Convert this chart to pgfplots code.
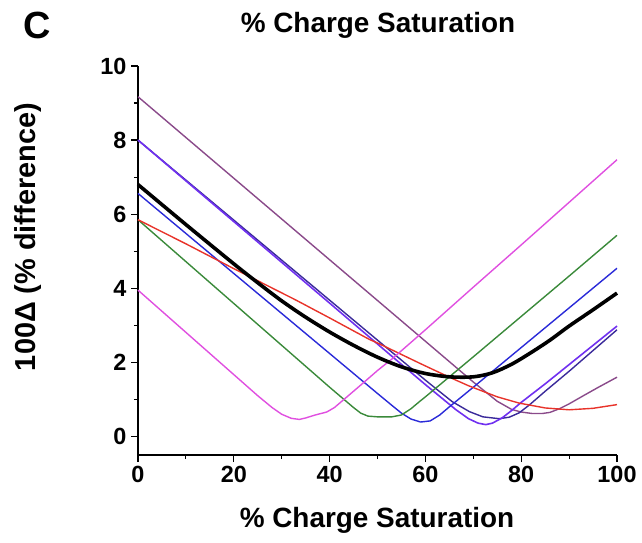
\documentclass[border=0pt]{standalone}
\usepackage{pgfplots}
\pgfplotsset{compat=1.18}
\usepackage{fontspec}
\setmainfont{Liberation Sans}
\definecolor{cplum}{HTML}{8A4A8A}
\definecolor{cviolet}{HTML}{7030F0}
\definecolor{cnavy}{HTML}{3A2A9A}
\definecolor{cblue}{HTML}{2A2AD8}
\definecolor{cgreen}{HTML}{3A8A3A}
\definecolor{cred}{HTML}{E8332A}
\definecolor{cmag}{HTML}{E050E0}
\begin{document}
\begin{tikzpicture}
\useasboundingbox (-138bp,-88bp) rectangle (504bp,455bp);
\begin{axis}[
  at={(0,0)}, anchor=south west,
  scale only axis, width=479bp, height=389bp,
  xmin=0, xmax=100, ymin=-0.5, ymax=10,
  axis lines*=left,
  axis line style={line width=1.4bp},
  tick align=outside,
  major tick length=7bp, minor tick length=4bp,
  every tick/.style={black, line width=1.2bp},
  xtick={0,20,40,60,80,100}, ytick={0,2,4,6,8,10},
  minor x tick num=1, minor y tick num=1,
  /pgf/number format/assume math mode=true,
  ticklabel style={font=\bfseries\fontsize{23.5}{23.5}\selectfont},
  xticklabel style={yshift=-1bp},
  yticklabel style={xshift=-1bp},
  clip=false,
]
% dark plum
\addplot[cplum, line width=1.4bp] coordinates {
(0,9.17) (10,8.07) (20,6.97) (30,5.87) (40,4.77) (50,3.67) (60,2.57) (70,1.47) (75,0.95) (78,0.73) (80,0.66) (82.3,0.62) (84.4,0.62) (86,0.65) (88,0.75) (90,0.88) (92.7,1.08) (96,1.32) (100,1.6)};
% navy
\addplot[cnavy, line width=1.4bp] coordinates {
(0,8.0) (10,6.92) (20,5.84) (30,4.76) (40,3.68) (52.5,2.33) (60,1.52) (65.6,0.94) (69.2,0.67) (72,0.53) (75.4,0.48) (77.5,0.52) (79.6,0.64) (81.7,0.85) (85,1.22) (90,1.76) (95,2.32) (100,2.88)};
% violet
\addplot[cviolet, line width=1.6bp] coordinates {
(0,8.0) (10,6.9) (20,5.8) (30,4.7) (40,3.6) (52.5,2.22) (60,1.4) (66.4,0.72) (69,0.48) (71,0.36) (72.6,0.32) (74,0.36) (76,0.5) (78,0.7) (80,0.92) (85,1.42) (90,1.94) (95,2.46) (100,2.98)};
% blue
\addplot[cblue, line width=1.4bp] coordinates {
(0,6.56) (10,5.48) (20,4.4) (30,3.32) (40,2.24) (50,1.16) (53,0.84) (55,0.63) (57,0.47) (59,0.39) (61,0.42) (63,0.58) (65,0.8) (70,1.33) (80,2.4) (90,3.47) (100,4.54)};
% green
\addplot[cgreen, line width=1.4bp] coordinates {
(0,5.85) (10,4.72) (20,3.59) (30,2.46) (40,1.33) (43,1.0) (45,0.78) (46.5,0.63) (48,0.55) (50,0.53) (53,0.53) (55,0.58) (57,0.75) (58.75,0.94) (60,1.07) (70,2.15) (80,3.24) (90,4.33) (100,5.43)};
% red
\addplot[cred, line width=1.4bp] coordinates {
(0,5.85) (10,5.2) (20,4.53) (33,3.68) (40,3.2) (48.3,2.62) (50.4,2.5) (58.75,1.98) (65,1.6) (69,1.37) (75,1.07) (79.6,0.9) (85,0.77) (90,0.72) (95,0.76) (100,0.86)};
% magenta
\addplot[cmag, line width=1.4bp] coordinates {
(0,3.95) (10,2.81) (20,1.67) (25,1.1) (28,0.78) (30,0.6) (32,0.49) (33.7,0.46) (35,0.5) (37,0.58) (39.4,0.66) (41,0.78) (43,1.0) (46.25,1.36) (50,1.78) (53.1,2.1) (60,2.88) (70,4.03) (80,5.17) (90,6.32) (100,7.47)};
% black thick
\addplot[black, line width=3.6bp, smooth, tension=0.5] coordinates {
(0,6.8) (10,5.72) (20,4.66) (25,4.15) (30,3.66) (35,3.22) (40,2.82) (45,2.46) (50,2.14) (55,1.88) (60,1.7) (65,1.61) (70,1.61) (74,1.72) (78,1.95) (82,2.26) (86,2.6) (90,2.98) (95,3.42) (100,3.87)};
\end{axis}
\node[font=\bfseries\fontsize{28}{28}\selectfont] at (240bp,430bp) {\% Charge Saturation};
\node[font=\bfseries\fontsize{28}{28}\selectfont] at (239bp,-65bp) {\% Charge Saturation};
\node[font=\bfseries\fontsize{29}{29}\selectfont, rotate=90] at (-110bp,218bp) {100Δ (\% difference)};
\node[font=\bfseries\fontsize{38}{38}\selectfont] at (-101bp,430bp) {C};
\end{tikzpicture}
\end{document}
